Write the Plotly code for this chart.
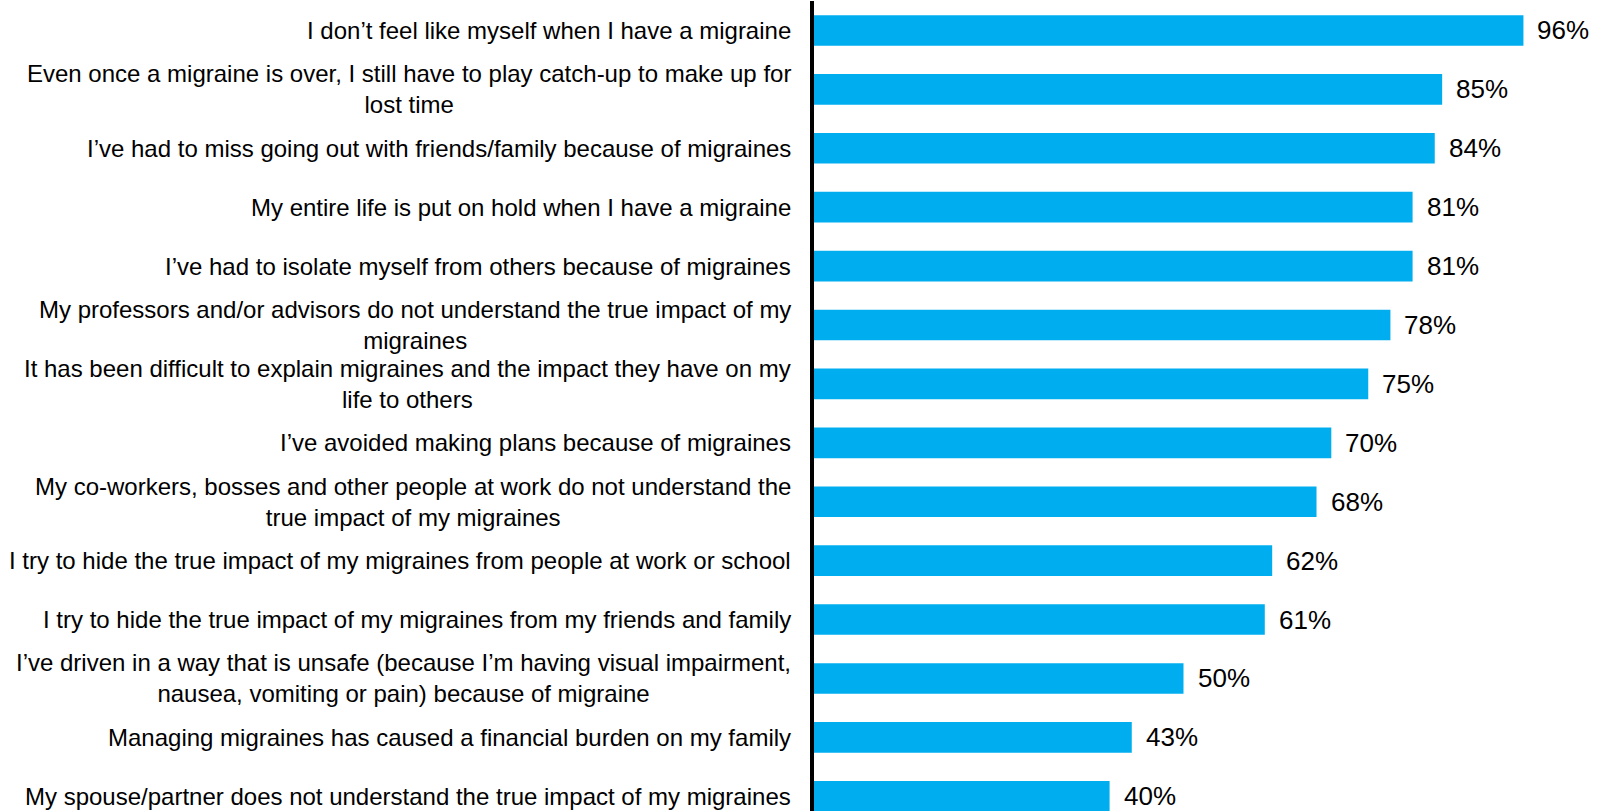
import plotly.graph_objects as go

categories = [
    "I don\u2019t feel like myself when I have a migraine",
    "Even once a migraine is over, I still have to play catch-up to make up for<br>lost time",
    "I\u2019ve had to miss going out with friends/family because of migraines",
    "My entire life is put on hold when I have a migraine",
    "I\u2019ve had to isolate myself from others because of migraines",
    "My professors and/or advisors do not understand the true impact of my<br>migraines",
    "It has been difficult to explain migraines and the impact they have on my<br>life to others",
    "I\u2019ve avoided making plans because of migraines",
    "My co-workers, bosses and other people at work do not understand the<br>true impact of my migraines",
    "I try to hide the true impact of my migraines from people at work or school",
    "I try to hide the true impact of my migraines from my friends and family",
    "I\u2019ve driven in a way that is unsafe (because I\u2019m having visual impairment,<br>nausea, vomiting or pain) because of migraine",
    "Managing migraines has caused a financial burden on my family",
    "My spouse/partner does not understand the true impact of my migraines",
]
values = [96, 85, 84, 81, 81, 78, 75, 70, 68, 62, 61, 50, 43, 40]
value_labels = [f"{v}%" for v in values]

FONT = "Arial, 'Liberation Sans', sans-serif"
BAR_COLOR = "#00AEEF"

ids = list(range(len(categories)))

fig = go.Figure()
fig.add_trace(go.Bar(
    x=values,
    y=ids,
    orientation="h",
    marker=dict(color=BAR_COLOR, line=dict(width=0)),
    width=0.52,
    hoverinfo="skip",
    cliponaxis=False,
))

annotations = []
for i, (cat, v, lab) in enumerate(zip(categories, values, value_labels)):
    annotations.append(dict(
        x=0, xref="x", y=i, yref="y", text=cat,
        xanchor="right", yanchor="middle", align="center",
        xshift=-21, showarrow=False,
        font=dict(family=FONT, size=24, color="black"),
    ))
    annotations.append(dict(
        x=v, xref="x", y=i, yref="y", text=lab,
        xanchor="left", yanchor="middle", align="left",
        xshift=12, showarrow=False,
        font=dict(family=FONT, size=26, color="black"),
    ))

fig.update_layout(
    width=1605, height=811,
    margin=dict(l=814, r=52, t=1, b=0, pad=0),
    paper_bgcolor="white", plot_bgcolor="white",
    showlegend=False,
    annotations=annotations,
    xaxis=dict(range=[0, 100], visible=False, fixedrange=True),
    yaxis=dict(
        range=[13.25, -0.5], showticklabels=False, ticks="",
        showgrid=False, zeroline=False,
        showline=True, linecolor="black", linewidth=4,
        fixedrange=True,
    ),
)

fig.write_html(
    "out.html",
    config={"displayModeBar": False},
    post_script="document.body.style.margin='0';document.body.style.overflow='hidden';",
)
